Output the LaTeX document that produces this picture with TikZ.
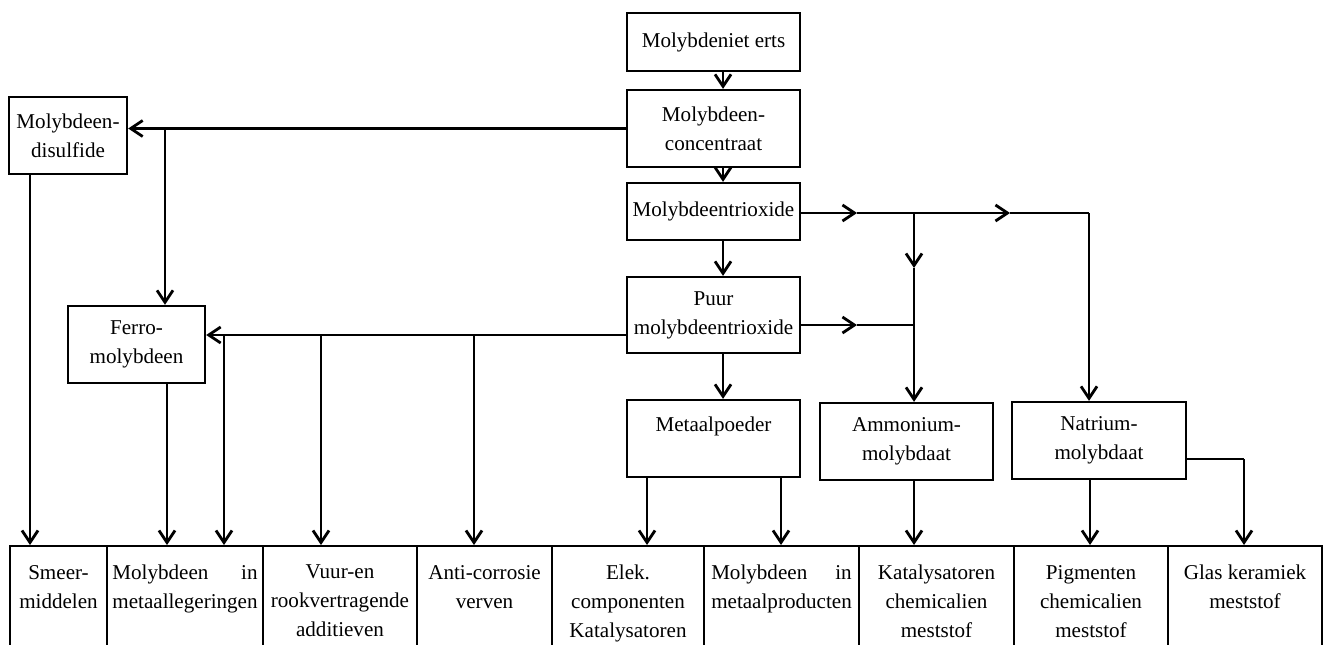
\documentclass[tikz,border=0pt]{standalone}
\usepackage{fontspec}
\setmainfont{Liberation Serif}
\usepackage{calc}
\usetikzlibrary{arrows.meta}

\tikzset{
  box/.style={draw, line width=1.3pt, align=center, inner sep=0pt,
    minimum width=3.46cm, minimum height=1.54cm},
  outbox/.style={draw, line width=1.3pt, align=center, anchor=north,
    inner xsep=0pt, inner ysep=0.38cm, text depth=2cm},
  flow/.style={line width=1.6pt, -{Straight Barb[length=2.4mm,width=3.2mm]}},
  link/.style={line width=1.6pt},
}

\begin{document}
\begin{tikzpicture}[x=0.2mm, y=-0.2mm, font=\fontsize{12}{16.5}\selectfont]
  \useasboundingbox (0,0) rectangle (1327,644);
  \clip (0,0) rectangle (1327,644);

  % main chain
  \node[box, minimum height=1.16cm] (erts) at (713.5,42) {Molybdeniet erts};
  \node[box] (conc) at (713.5,128.5) {Molybdeen-\\concentraat};
  \node[box, minimum height=1.14cm] (trio) at (713.5,211.5) {Molybdeentrioxide};
  \node[box, minimum height=1.52cm] (puur) at (713.5,315) {Puur\\molybdeentrioxide};
  \node[box] (meta) at (713.5,438.5) {Metaalpoeder\\\mbox{}};
  \node[box] (ammo) at (906.5,441.5) {Ammonium-\\molybdaat};
  \node[box, minimum width=3.48cm] (natr) at (1099,440.5) {Natrium-\\molybdaat};
  \node[box, minimum width=2.36cm] (disu) at (68,135.5) {Molybdeen-\\disulfide};
  \node[box, minimum width=2.74cm] (ferro) at (136.5,344.5) {Ferro-\\molybdeen};

  % products
  \node[outbox, minimum width=1.94cm] (b1) at (58.5,545) {Smeer-\\middelen};
  \node[outbox, minimum width=3.12cm] (b2) at (185,545)
    {\makebox[\widthof{metaallegeringen}]{Molybdeen\hfill in}\\metaallegeringen};
  \node[outbox, minimum width=3.08cm] (b3) at (340,545) {Vuur-en\\rookvertragende\\additieven};
  \node[outbox, minimum width=2.70cm] (b4) at (484.5,545) {Anti-corrosie\\verven};
  \node[outbox, minimum width=3.04cm] (b5) at (628,545) {Elek.\\componenten\\Katalysatoren};
  \node[outbox, minimum width=3.10cm] (b6) at (781.5,545)
    {\makebox[\widthof{metaalproducten}]{Molybdeen\hfill in}\\metaalproducten};
  \node[outbox, minimum width=3.10cm] (b7) at (936.5,545) {Katalysatoren\\chemicalien\\meststof};
  \node[outbox, minimum width=3.08cm] (b8) at (1091,545) {Pigmenten\\chemicalien\\meststof};
  \node[outbox, minimum width=3.08cm] (b9) at (1245,545) {Glas keramiek\\meststof};

  % bends and mid arrows
  \coordinate (tr1) at (857,213);
  \coordinate (tr2) at (1010,213);
  \coordinate (trj) at (914,213);
  \coordinate (trc) at (1089,213);
  \coordinate (am1) at (914,268);
  \coordinate (pu1) at (857,325);
  \coordinate (puj) at (914,325);
  \coordinate (cb) at (165,128.5);
  \coordinate (nc) at (1244,459);

  \draw[flow] (erts.south -| 723,0) -- (conc.north -| 723,0);
  \draw[flow] (conc.south -| 723,0) -- (trio.north -| 723,0);
  \draw[flow] (trio.south -| 723,0) -- (puur.north -| 723,0);
  \draw[flow] (puur.south -| 723,0) -- (meta.north -| 723,0);

  % to the left
  \draw[flow] (conc.west) -- (conc.west -| disu.east);
  \draw[flow] (cb) -- (cb |- ferro.north);
  \draw[flow] (disu.south -| 30,0) -- (b1.north -| 30,0);
  \draw[flow] (ferro.south -| 167,0) -- (b2.north -| 167,0);
  \draw[flow] (puur.west |- 0,335) -- (ferro.east |- 0,335);
  \foreach \x/\b in {224/b2, 321/b3, 474/b4}
    \draw[flow] (\x,335) -- (\b.north -| \x,0);

  % to the right
  \draw[flow] (trio.east |- trj) -- (tr1);
  \draw[flow] (tr1) -- (tr2);
  \draw[link] (tr2) -- (trc);
  \draw[flow] (trc) -- (trc |- natr.north);
  \draw[flow] (trj) -- (am1);
  \draw[flow] (am1) -- (am1 |- ammo.north);
  \draw[flow] (puur.east |- pu1) -- (pu1);
  \draw[link] (pu1) -- (puj);

  % products from the lower row
  \draw[flow] (meta.south -| 647,0) -- (b5.north -| 647,0);
  \draw[flow] (meta.south -| 781,0) -- (b6.north -| 781,0);
  \draw[flow] (ammo.south -| 914,0) -- (b7.north -| 914,0);
  \draw[flow] (natr.south -| 1090,0) -- (b8.north -| 1090,0);
  \draw[link] (natr.east |- nc) -- (nc);
  \draw[flow] (nc) -- (nc |- b9.north);
\end{tikzpicture}
\end{document}
